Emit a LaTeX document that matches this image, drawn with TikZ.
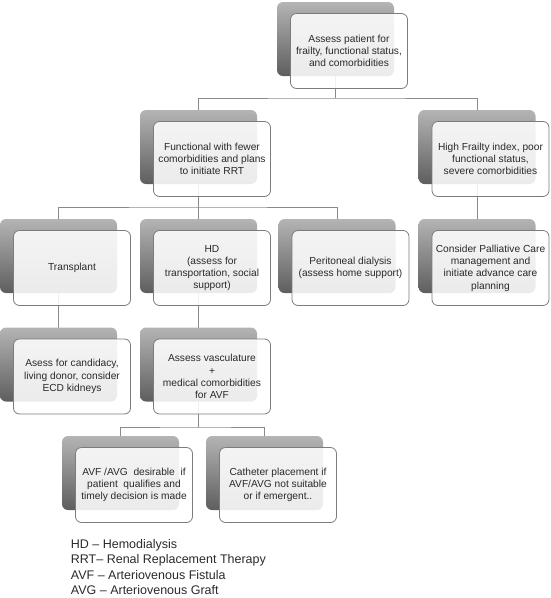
\documentclass[tikz,border=0pt]{standalone}
\usepackage{fontspec}
\setmainfont{Liberation Sans}
\usetikzlibrary{calc,backgrounds}
\definecolor{bktop}{HTML}{B4B4B4}
\definecolor{bkbot}{HTML}{5E5E5E}
\definecolor{frline}{HTML}{7C7C7C}
\definecolor{conncol}{HTML}{8A8A8A}
\definecolor{txtcol}{HTML}{2A2A2A}
\tikzset{
 backbox/.style={rectangle, rounded corners=6pt, minimum width=117pt, minimum height=74pt, top color=bktop, bottom color=bkbot, draw=none, inner sep=0pt},
 frontbox/.style={rectangle, rounded corners=6pt, minimum width=117pt, minimum height=75pt, draw=frline, line width=0.8pt, fill=white, fill opacity=0.88, text opacity=1, align=center, text=txtcol, font=\fontsize{10.2}{12.3}\selectfont, inner sep=2pt},
 conn/.style={draw=conncol, line width=1pt},
 legend/.style={anchor=base west, font=\fontsize{12.5}{15}\selectfont, text=txtcol, inner sep=0pt}
}
\begin{document}
\begin{tikzpicture}[x=1pt,y=-1pt]
\useasboundingbox (0,0) rectangle (550,598);
% back boxes
\node[backbox] (top) at (335.5,39) {};
\node[backbox] (func) at (198.5,147) {};
\node[backbox] (frail) at (477,147) {};
\node[backbox] (trans) at (58.5,256) {};
\node[backbox] (hd) at (198.5,256) {};
\node[backbox] (pd) at (337,256) {};
\node[backbox] (pall) at (477,256) {};
\node[backbox] (asess) at (58.5,364.5) {};
\node[backbox] (vasc) at (198.5,364.5) {};
\node[backbox] (avf) at (120.5,473) {};
\node[backbox] (cath) at (264.5,473) {};
% front boxes
\node[frontbox] (topf) at ($(top)+(13.5,12)$) {Assess patient for\\frailty, functional status,\\and comorbidities};
\node[frontbox] (funcf) at ($(func)+(13.5,12)$) {Functional with fewer\\comorbidities and plans\\to initiate RRT};
\node[frontbox] (frailf) at ($(frail)+(13.5,12)$) {High Frailty index, poor\\functional status,\\severe comorbidities};
\node[frontbox] (transf) at ($(trans)+(13.5,12)$) {Transplant};
\node[frontbox] (hdf) at ($(hd)+(13.5,12)$) {HD\\(assess for\\transportation, social\\support)};
\node[frontbox] (pdf) at ($(pd)+(13.5,12)$) {Peritoneal dialysis\\(assess home support)};
\node[frontbox] (pallf) at ($(pall)+(13.5,12)$) {Consider Palliative Care\\management and\\initiate advance care\\planning};
\node[frontbox] (asessf) at ($(asess)+(13.5,12)$) {Asess for candidacy,\\living donor, consider\\ECD kidneys};
\node[frontbox] (vascf) at ($(vasc)+(13.5,12)$) {Assess vasculature\\+\\medical comorbidities\\for AVF};
\node[frontbox] (avff) at ($(avf)+(13.5,12)$) {AVF /AVG\ \ desirable\ \ if\\patient\ \ qualifies and\\timely decision is made};
\node[frontbox] (cathf) at ($(cath)+(13.5,12)$) {Catheter placement if\\AVF/AVG not suitable\\or if emergent..};
% bus coordinates
\coordinate (b1) at (335.5,98);
\coordinate (b2) at (198.5,207);
\coordinate (b3) at (198.5,427);
% connectors
\begin{scope}[on background layer]
\draw[conn] (top.center) -- (b1);
\draw[conn] (func.center) |- (b1) -| (frail.center);
\draw[conn] (func.center) -- (hd.center);
\draw[conn] (trans.center) |- (b2) -| (pd.center);
\draw[conn] (frail.center) -- (pall.center);
\draw[conn] (trans.center) -- (asess.center);
\draw[conn] (hd.center) -- (vasc.center);
\draw[conn] (vasc.center) -- (b3);
\draw[conn] (avf.center) |- (b3) -| (cath.center);
\end{scope}
% legend
\node[legend] (l1) at (70.7,548.3) {HD – Hemodialysis};
\node[legend] (l2) at (70.7,563.8) {RRT– Renal Replacement Therapy};
\node[legend] (l3) at (70.7,579.3) {AVF – Arteriovenous Fistula};
\node[legend] (l4) at (70.7,594.8) {AVG – Arteriovenous Graft};
\end{tikzpicture}
\end{document}
